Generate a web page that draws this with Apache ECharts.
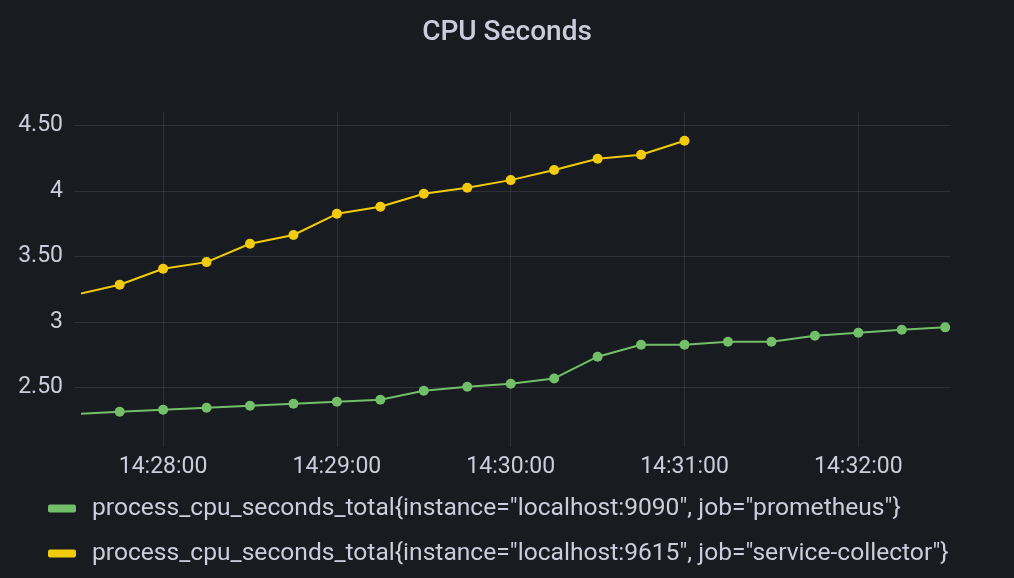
<!DOCTYPE html>
<html>
<head>
<meta charset="utf-8">
<script src="https://cdn.jsdelivr.net/npm/echarts@6/dist/echarts.min.js"></script>
<style>
html,body{margin:0;padding:0;background:#181b1f;}
#chart{width:1014px;height:578px;}
</style>
</head>
<body>
<div id="chart"></div>
<script>
const title = 'CPU Seconds';
const seriesNames = [
  'process_cpu_seconds_total{instance="localhost:9090", job="prometheus"}',
  'process_cpu_seconds_total{instance="localhost:9615", job="service-collector"}'
];
const times = ['14:27:30','14:27:45','14:28:00','14:28:15','14:28:30','14:28:45','14:29:00','14:29:15','14:29:30','14:29:45',
  '14:30:00','14:30:15','14:30:30','14:30:45','14:31:00','14:31:15','14:31:30','14:31:45','14:32:00','14:32:15','14:32:30'];
const prometheusValues = [2.296,2.314,2.329,2.344,2.360,2.375,2.390,2.405,2.474,2.505,
  2.527,2.568,2.734,2.825,2.825,2.848,2.848,2.894,2.917,2.940,2.958];
const collectorValues = [3.208,3.283,3.405,3.456,3.596,3.663,3.825,3.879,3.978,4.024,
  4.082,4.159,4.245,4.276,4.382];
const yTicks = [2.5,3,3.5,4,4.5];
const xTicks = ['14:28:00','14:29:00','14:30:00','14:31:00','14:32:00'];
const xRange = ['14:27:32','14:32:32'];
const yRange = [2.098,4.602];

function toSec(t){const p=t.split(':').map(Number);return p[0]*3600+p[1]*60+p[2];}
function pad(n){return (n<10?'0':'')+n;}
function fmtSec(s){s=Math.round(s);return pad(Math.floor(s/3600))+':'+pad(Math.floor(s%3600/60))+':'+pad(s%60);}

const gridColor = 'rgba(204,204,220,0.12)';
const textColor = '#ccccdc';
const font = 'Roboto';

const chart = echarts.init(document.getElementById('chart'), null, {renderer:'canvas'});
chart.setOption({
  backgroundColor:'#181b1f',
  animation:false,
  textStyle:{fontFamily:font},
  title:{text:title,left:'center',top:14,textStyle:{color:textColor,fontSize:28,fontWeight:500,fontFamily:font}},
  legend:{
    orient:'vertical',left:48,top:496,padding:0,itemWidth:28,itemHeight:8,itemGap:20,icon:'roundRect',
    textStyle:{color:textColor,fontSize:24.6,fontFamily:font,padding:[0,0,0,11]},
    data:seriesNames
  },
  grid:{left:82,right:63,top:112,bottom:138,containLabel:false},
  xAxis:{
    type:'value',min:toSec(xRange[0]),max:toSec(xRange[1]),
    axisLine:{show:false},
    axisTick:{show:true,length:7,lineStyle:{color:gridColor},customValues:xTicks.map(toSec)},
    splitLine:{show:true,lineStyle:{color:gridColor,width:1}},
    axisLabel:{color:textColor,fontSize:23,fontFamily:font,margin:16,customValues:xTicks.map(toSec),formatter:v=>fmtSec(v)}
  },
  yAxis:{
    type:'value',min:yRange[0],max:yRange[1],
    axisLine:{show:false},
    axisTick:{show:true,length:7,lineStyle:{color:gridColor},customValues:yTicks},
    splitLine:{show:true,lineStyle:{color:gridColor,width:1}},
    axisLabel:{color:textColor,fontSize:23,fontFamily:font,margin:19,customValues:yTicks,
      formatter:v=>Number.isInteger(v)?String(v):v.toFixed(2)}
  },
  series:[
    {name:seriesNames[0],type:'line',data:times.map((t,i)=>[toSec(t),prometheusValues[i]]),
     color:'#73bf69',symbol:'circle',symbolSize:10,showSymbol:true,lineStyle:{width:2},clip:true},
    {name:seriesNames[1],type:'line',data:collectorValues.map((v,i)=>[toSec(times[i]),v]),
     color:'#f2cc0c',symbol:'circle',symbolSize:10,showSymbol:true,lineStyle:{width:2},clip:true}
  ]
});
</script>
</body>
</html>
